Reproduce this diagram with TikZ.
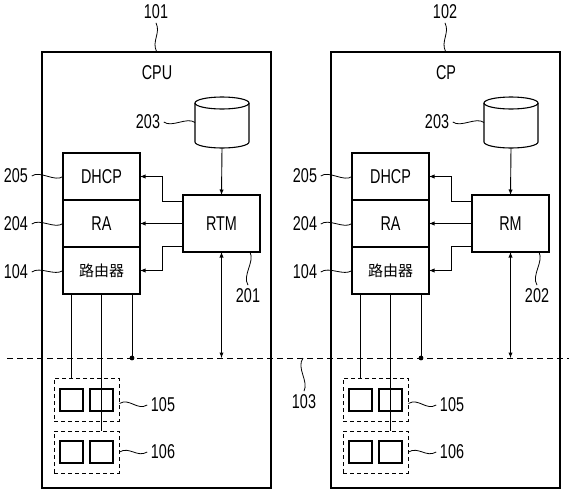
\documentclass[tikz,border=0pt]{standalone}
\usepackage{fontspec}
\setmainfont{Liberation Sans}[FakeStretch=0.72]
\newfontfamily\cjk{Noto Sans CJK SC}
\usetikzlibrary{positioning}

\tikzset{
  unit/.style={draw,line width=1.1pt,outer sep=0pt,inner sep=0pt,minimum width=77pt,minimum height=47pt},
  port/.style={draw,line width=1.3pt,inner sep=0pt,minimum width=23pt,minimum height=22pt},
  group/.style={draw,dash pattern=on 4pt off 3pt,line width=0.9pt,inner sep=0pt,minimum width=65pt},
  store/.style={inner sep=0pt,outer sep=0pt,minimum width=54pt,minimum height=51pt},
  dot/.style={circle,fill,inner sep=1.7pt},
  lead/.style={line width=0.8pt}
}

\begin{document}
\begin{tikzpicture}[x=1pt,y=-1pt,line width=0.9pt,>=latex,font=\fontsize{20}{23}\selectfont]
  \useasboundingbox (0,0) rectangle (569,493);
  % shared network
  \coordinate (busL) at (7,358);
  \coordinate (busR) at (569,358);
  \draw[dash pattern=on 6pt off 4pt] (busL) -- (busR);
  \coordinate (tapbus) at (303,358);
  \node (lbus) at (304,402) {103};
  \draw[lead] (tapbus) .. controls +(-7,10) and +(5,-10) .. (lbus.north);

  \foreach \dx/\num/\name/\mgr/\mnum in {0/101/CPU/RTM/201, 289/102/CP/RM/202} {
  \begin{scope}[xshift=\dx pt]
    \node[draw,line width=1.3pt,minimum width=229pt,minimum height=436pt] (box\num) at (156.5,270) {};
    \node (title\num) at (157,73) {\name};
    \node (l\num) at (156,12) {\num};
    \draw[lead] (l\num.south) .. controls +(5,10) and +(-5,-10) .. (box\num.north);

    % database
    \node[store] (db\num) at (222,122.5) {};
    \draw[line width=1.1pt] (222,103) ellipse [x radius=27,y radius=6];
    \draw[line width=1.1pt] (195,103) -- (195,142) arc[start angle=180,end angle=0,x radius=27,y radius=6] -- (249,103);
    \node (ldb\num) at (148,122) {203};
    \draw[lead] (ldb\num.east) .. controls +(8,6) and +(-8,-6) .. (db\num.west);

    % protocol stack
    \node[unit] (dhcp\num) at (101.5,176.5) {DHCP};
    \node[unit,below=0pt of dhcp\num] (ra\num) {RA};
    \node[unit,below=0pt of ra\num] (rt\num) {\cjk\fontsize{15}{18}\selectfont 路由器};
    \node (ld\num) at (16,176) {205};
    \node (lr\num) at (16,224) {204};
    \node (lt\num) at (16,272) {104};
    \draw[lead] (ld\num.east) .. controls +(8,-6) and +(-8,6) .. (dhcp\num.west);
    \draw[lead] (lr\num.east) .. controls +(8,-6) and +(-8,6) .. (ra\num.west);
    \draw[lead] (lt\num.east) .. controls +(8,-6) and +(-8,6) .. (rt\num.west);

    % manager
    \node[unit,minimum height=57pt] (mgr\num) at (221.5,223.5) {\mgr};
    \node (lm\num) at (248,296) {\mnum};
    \draw[lead] (lm\num.north) .. controls +(-6,-10) and +(5,10) .. ([xshift=-10pt]mgr\num.south east);

    \draw[->] (db\num.south) -- (mgr\num.north);
    \draw[->] ([yshift=22.5pt]mgr\num.west) -- ++(-21,0) |- (dhcp\num.east);
    \draw[->] (mgr\num.west) -- (ra\num.east);
    \draw[->] ([yshift=-22.5pt]mgr\num.west) -- ++(-21,0) |- (rt\num.east);
    \draw[<->] (mgr\num.south) -- (mgr\num.south |- busL);

    % interfaces
    \node[group,minimum height=43pt] (ga\num) at (86.5,399.5) {};
    \node[port] (pa\num) at (71.5,400) {};
    \node[port] (pb\num) at (101.5,400) {};
    \node[group,minimum height=42pt] (gb\num) at (86.5,452) {};
    \node[port] (pc\num) at (71.5,452) {};
    \node[port] (pd\num) at (101.5,452) {};
    \node (lga\num) at (163,405) {105};
    \node (lgb\num) at (163,452) {106};
    \draw[lead] ([yshift=-4pt]ga\num.east) .. controls +(10,-6) and +(-10,6) .. (lga\num.west);
    \draw[lead] (gb\num.east) .. controls +(10,-6) and +(-10,6) .. (lgb\num.west);

    \coordinate (ta\num) at ([xshift=8pt]rt\num.south west);
    \coordinate (tc\num) at ([xshift=-8pt]rt\num.south east);
    \draw (ta\num) -- (ta\num |- ga\num.north);
    \draw (rt\num.south) -- (rt\num.south |- gb\num.north);
    \draw (tc\num) -- (tc\num |- busL) node[dot] (dot\num) {};
  \end{scope}
  }
\end{tikzpicture}
\end{document}
